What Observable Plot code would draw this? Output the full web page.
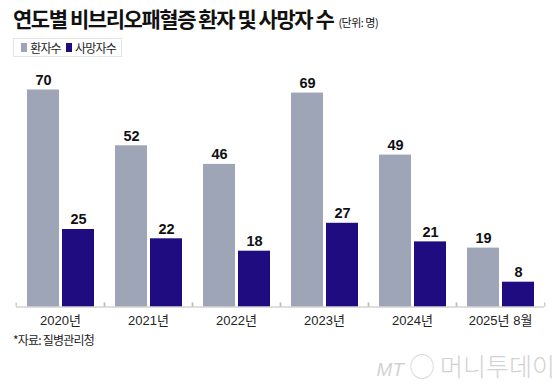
<!DOCTYPE html>
<html>
<head>
<meta charset="utf-8">
<script src="https://cdn.jsdelivr.net/npm/d3@7"></script>
<script src="https://cdn.jsdelivr.net/npm/@observablehq/plot@0.6"></script>
<style>
  html, body { margin: 0; padding: 0; background: #fff; }
  body { width: 560px; height: 384px; position: relative; overflow: hidden;
         font-family: "Liberation Sans", "Noto Sans CJK KR", sans-serif; color: #111; }
  #title { position: absolute; left: 13px; top: 3px; font-size: 21px; font-weight: bold;
           letter-spacing: -1.45px; white-space: nowrap; font-family: "Noto Sans CJK KR", sans-serif; color: #111; }
  #title span { font-size: 11px; font-weight: normal; letter-spacing: -0.5px; margin-left: 5px; }
  #legend { position: absolute; left: 13px; top: 38px; width: 109px; height: 19px; border: 1px solid #e4e4e4;
            box-sizing: border-box; font-size: 12px; letter-spacing: -0.8px; font-family: "Noto Sans CJK KR", sans-serif;
            display: flex; align-items: center; padding-left: 7px; white-space: nowrap; color: #222; }
  #legend i { display: inline-block; width: 9px; height: 9px; margin-right: 3px; }
  #legend b { font-weight: normal; margin-right: 5px; }
  #chart { position: absolute; left: 0; top: 60px; }
  #source { position: absolute; left: 13px; top: 331px; font-size: 12px; letter-spacing: -0.8px;
            font-family: "Noto Sans CJK KR", sans-serif; color: #222; }
  #mark { position: absolute; left: 330px; top: 350px; width: 225px; font-size: 25px; color: #d2d2d2;
          font-family: "Noto Sans CJK KR", sans-serif; font-weight: 300; white-space: nowrap; text-align: right; line-height: 30px; }
  #mark em { font-family: "Liberation Sans", sans-serif; font-size: 19px; }
</style>
</head>
<body>
<div id="title"></div>
<div id="legend"></div>
<div id="chart"></div>
<div id="source"></div>
<div id="mark"></div>
<script>
const titleText = "연도별 비브리오패혈증 환자 및 사망자 수";
const unitText = "(단위: 명)";
const years = ["2020년", "2021년", "2022년", "2023년", "2024년", "2025년 8월"];
const seriesNames = ["환자수", "사망자수"];
const patients = [70, 52, 46, 69, 49, 19];
const deaths = [25, 22, 18, 27, 21, 8];
const seriesColors = ["#9ea5b7", "#1f0c80"];
const sourceText = "*자료: 질병관리청";
const watermarkLogo = "MT";
const watermarkText = "머니투데이";

document.getElementById("title").innerHTML = `${titleText}<span>${unitText}</span>`;
document.getElementById("legend").innerHTML = seriesNames
  .map((s, i) => `<i style="background:${seriesColors[i]}"></i><b>${s}</b>`).join("");
document.getElementById("source").textContent = sourceText;
document.getElementById("mark").innerHTML = `<em>${watermarkLogo}</em> ◯ ${watermarkText}`;

const data = years.flatMap((y, i) => [
  {year: y, series: seriesNames[0], value: patients[i]},
  {year: y, series: seriesNames[1], value: deaths[i]}
]);

const width = 560, marginLeft = 14, marginRight = 14;
const half = (width - marginLeft - marginRight) / years.length / 2;

const chart = Plot.plot({
  width,
  height: 280,
  marginTop: 20,
  marginBottom: 33.5,
  marginLeft,
  marginRight,
  style: {fontFamily: "'Liberation Sans', 'Noto Sans CJK KR', sans-serif", background: "#fff", color: "#222"},
  fx: {domain: years, padding: 0, label: null, axis: null},
  x: {domain: seriesNames, paddingInner: 0.1, paddingOuter: 0.3, axis: null},
  y: {domain: [0, 73.06], axis: null},
  color: {domain: seriesNames, range: seriesColors},
  marks: [
    Plot.barY(data, {fx: "year", x: "series", y: "value", fill: "series"}),
    Plot.text(data, {fx: "year", x: "series", y: "value", text: d => String(d.value),
      dy: -5, lineAnchor: "bottom", fontSize: 14.5, fontWeight: "bold", fill: "#111"}),
    Plot.ruleY([0], {stroke: "#bdbdbd", strokeWidth: 1}),
    Plot.axisFx({anchor: "bottom", tickSize: 4, dy: -4, dx: -half, tickFormat: () => "", stroke: "#b5b5b5"}),
    Plot.axisFx([years[years.length - 1]], {anchor: "bottom", tickSize: 4, dy: -4, dx: half, tickFormat: () => "", stroke: "#b5b5b5"}),
    Plot.axisFx({anchor: "bottom", tickSize: 0, tickPadding: 9, fontSize: 13, fill: "#222",
      fontFamily: "'Liberation Sans', 'Noto Sans CJK KR', sans-serif"})
  ]
});
document.getElementById("chart").appendChild(chart);
</script>
</body>
</html>
